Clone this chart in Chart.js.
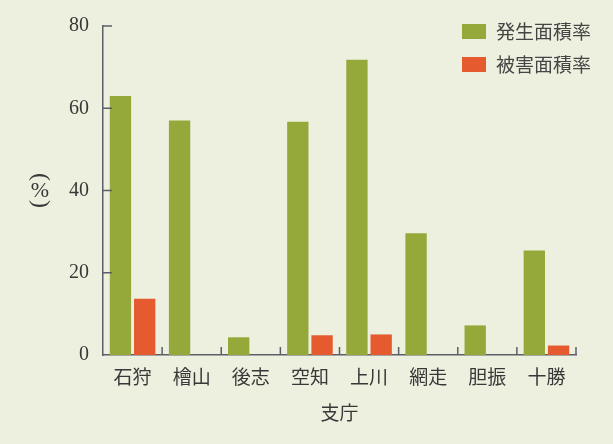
<!DOCTYPE html>
<html><head><meta charset="utf-8">
<script src="https://cdn.jsdelivr.net/npm/chart.js@4.4.1/dist/chart.umd.min.js"></script>
<style>
html,body{margin:0;padding:0;background:#edf0df;}
#wrap{width:613px;height:444px;position:relative;}
</style></head>
<body><div id="wrap"><canvas id="c" width="613" height="444"></canvas></div>
<script>
const categories = ['石狩','檜山','後志','空知','上川','網走','胆振','十勝'];
const occurrenceRate = [63.0, 57.0, 4.3, 56.7, 71.8, 29.6, 7.2, 25.4];
const damageRate = [13.7, 0, 0, 4.8, 5.0, 0, 0, 2.3];
const seriesNames = ['発生面積率','被害面積率'];
const yTicks = [0,20,40,60,80];

const GREEN = '#95a83a', RED = '#e65a30', AXIS = '#5a5f6a', TEXT = '#383838';
const FONT = '"Liberation Serif", "Noto Sans CJK JP", serif';
const CJK = '"Noto Sans CJK JP", sans-serif';

const decor = {
  id: 'decor',
  afterDraw(chart) {
    const ctx = chart.ctx, x = chart.scales.x, y = chart.scales.y, a = chart.chartArea;
    ctx.save();
    ctx.strokeStyle = AXIS; ctx.lineWidth = 1.5;
    // y inward ticks
    yTicks.forEach(v => {
      const py = y.getPixelForValue(v);
      if (v === 0) return;
      ctx.beginPath(); ctx.moveTo(a.left, py); ctx.lineTo(a.left + 9, py); ctx.stroke();
    });
    // x boundary ticks (upward)
    const step = x.getPixelForValue(1) - x.getPixelForValue(0);
    for (let i = 1; i <= categories.length; i++) {
      const px = x.getPixelForValue(i - 1) + step / 2;
      ctx.beginPath(); ctx.moveTo(px, a.bottom); ctx.lineTo(px, a.bottom - 8); ctx.stroke();
    }
    // legend
    const ds = chart.data.datasets;
    ctx.textBaseline = 'middle'; ctx.textAlign = 'left';
    ctx.font = '19px ' + CJK;
    ds.forEach((d, i) => {
      const top = 24 + i * 33;
      ctx.fillStyle = d.backgroundColor;
      ctx.fillRect(462, top, 24, 15);
      ctx.fillStyle = '#454545';
      ctx.fillText(d.label, 496, top + 8);
    });
    // vertical (%) label
    ctx.fillStyle = TEXT;
    ctx.textAlign = 'center';
    ctx.font = '22px ' + FONT;
    ctx.fillText('%', 40, 191);
    ctx.font = '24px ' + FONT;
    ctx.save(); ctx.translate(40, 177); ctx.rotate(Math.PI / 2); ctx.fillText('(', 0, 0); ctx.restore();
    ctx.save(); ctx.translate(40, 204); ctx.rotate(Math.PI / 2); ctx.fillText(')', 0, 0); ctx.restore();
    ctx.restore();
  }
};

new Chart(document.getElementById('c'), {
  type: 'bar',
  data: {
    labels: categories,
    datasets: [
      { label: seriesNames[0], data: occurrenceRate, backgroundColor: GREEN },
      { label: seriesNames[1], data: damageRate, backgroundColor: RED }
    ]
  },
  options: {
    responsive: false,
    animation: false,
    events: [],
    layout: { padding: { left: 0, right: 37, top: 16, bottom: 0 } },
    categoryPercentage: 0.82,
    barPercentage: 0.88,
    plugins: { legend: { display: false }, tooltip: { enabled: false } },
    scales: {
      x: {
        grid: { display: false, drawTicks: false },
        border: { display: true, color: AXIS, width: 1.5 },
        ticks: { color: TEXT, font: { family: CJK, size: 19 }, padding: 10 },
        title: { display: true, text: '支庁', color: TEXT, font: { family: CJK, size: 19 }, padding: { top: 0, bottom: 20 } },
        afterFit(s) { s.height = 89; }
      },
      y: {
        min: 0, max: 80,
        afterBuildTicks(s) { s.ticks = yTicks.map(v => ({ value: v })); },
        grid: { display: false, drawTicks: false },
        border: { display: true, color: AXIS, width: 1.5 },
        ticks: { color: TEXT, font: { family: FONT, size: 20 }, padding: 14 },
        afterFit(s) { s.width = 103; }
      }
    }
  },
  plugins: [decor]
});
</script></body></html>
